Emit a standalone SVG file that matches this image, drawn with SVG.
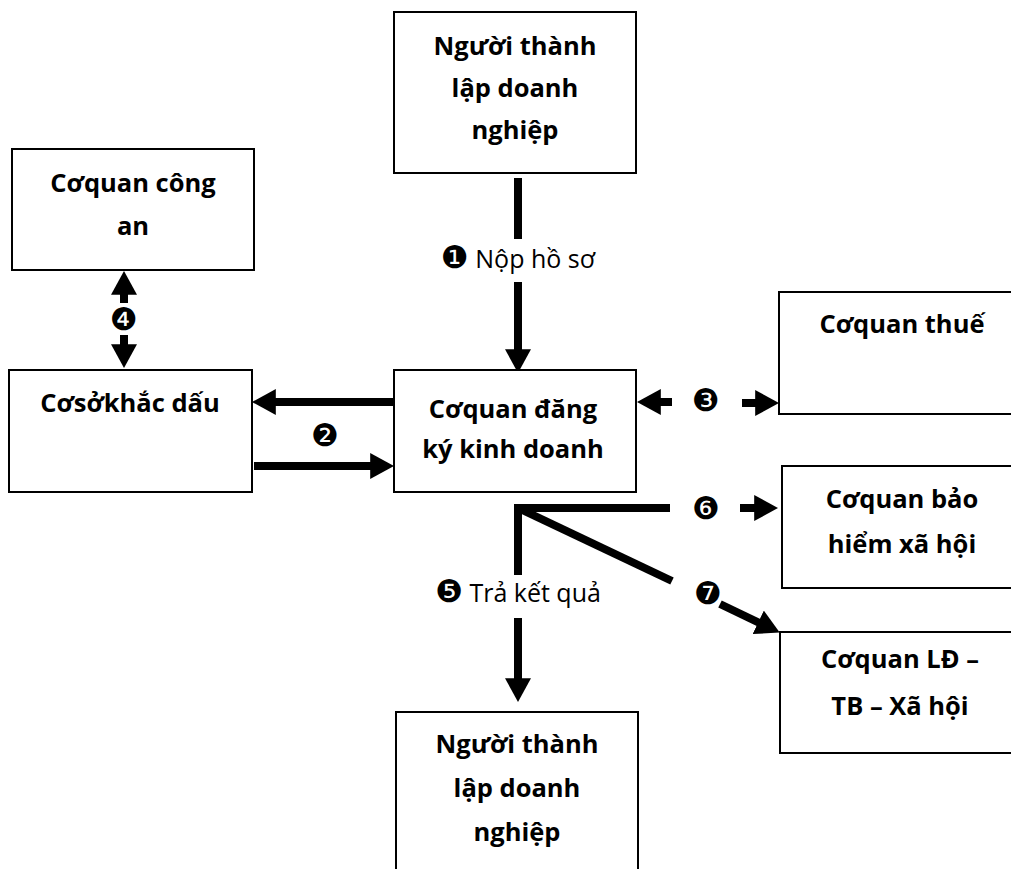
<svg xmlns="http://www.w3.org/2000/svg" width="1011" height="869" viewBox="0 0 1011 869">
  <style>
    .box { fill: #fff; stroke: #000; stroke-width: 2; }
    .t { font-family: "Open Sans", "Noto Sans", sans-serif; font-weight: 700; font-size: 25.5px; fill: #000; text-anchor: middle; }
    .lbl { font-family: "Open Sans", "Noto Sans", sans-serif; font-size: 25px; fill: #000; text-anchor: middle; }
    .num { font-family: "DejaVu Sans", sans-serif; font-size: 31px; fill: #000; }
    .numc { font-family: "DejaVu Sans", sans-serif; font-size: 31px; fill: #000; text-anchor: middle; }
    .ln { stroke: #000; stroke-width: 8; fill: none; }
    .arr { stroke: #000; stroke-width: 8; fill: none; marker-end: url(#head); }
  </style>
  <defs>
    <marker id="head" markerUnits="userSpaceOnUse" markerWidth="24" markerHeight="26" viewBox="0 0 22 24" refX="10" refY="12" orient="auto">
      <path d="M0,0 L22,12 L0,24 z" fill="#000"/>
    </marker>
  </defs>

  <rect width="1011" height="869" fill="#fff"/>

  <!-- connectors -->
  <g id="connectors">
    <!-- 1: submit application -->
    <line class="ln" x1="518" y1="178" x2="518" y2="239"/>
    <line class="arr" x1="518" y1="282" x2="518" y2="360"/>
    <!-- 2: seal making, both ways -->
    <line class="arr" x1="394" y1="402" x2="265" y2="402"/>
    <line class="arr" x1="254" y1="466" x2="381" y2="466"/>
    <!-- 3: tax office -->
    <line class="arr" x1="672" y1="402" x2="650" y2="402"/>
    <line class="arr" x1="742" y1="403" x2="766" y2="403"/>
    <!-- 4: police -->
    <line class="arr" x1="124" y1="303" x2="124" y2="284"/>
    <line class="arr" x1="124" y1="335" x2="124" y2="355"/>
    <!-- 5 and 6: result and social insurance -->
    <path class="ln" d="M518,575 V508 H670"/>
    <line class="arr" x1="740" y1="508" x2="765" y2="508"/>
    <line class="arr" x1="518" y1="618" x2="518" y2="689"/>
    <!-- 7: labour office -->
    <line class="ln" x1="518" y1="508" x2="672" y2="581"/>
    <line class="arr" x1="720" y1="604" x2="768" y2="627"/>
  </g>

  <g id="connector-labels">
    <text class="lbl" x="518" y="268"><tspan class="num">❶</tspan> Nộp hồ sơ</text>
    <text class="lbl" x="518" y="602"><tspan class="num">❺</tspan> Trả kết quả</text>
    <text class="numc" x="325" y="446">❷</text>
    <text class="numc" x="706" y="411">❸</text>
    <text class="numc" x="124" y="330">❹</text>
    <text class="numc" x="706" y="519">❻</text>
    <text class="numc" x="708" y="604">❼</text>
  </g>

  <g id="node-founder-top">
    <rect class="box" x="394" y="12" width="242" height="161"/>
    <text class="t" x="515" y="55">Người thành</text>
    <text class="t" x="515" y="97">lập doanh</text>
    <text class="t" x="515" y="139">nghiệp</text>
  </g>

  <g id="node-police">
    <rect class="box" x="12" y="149" width="242" height="121"/>
    <text class="t" x="133" y="192">Cơquan công</text>
    <text class="t" x="133" y="235">an</text>
  </g>

  <g id="node-seal">
    <rect class="box" x="9" y="370" width="243" height="122"/>
    <text class="t" x="130" y="412">Cơsởkhắc dấu</text>
  </g>

  <g id="node-registry">
    <rect class="box" x="394" y="370" width="242" height="122"/>
    <text class="t" x="513" y="418">Cơquan đăng</text>
    <text class="t" x="513" y="458">ký kinh doanh</text>
  </g>

  <g id="node-tax">
    <rect class="box" x="779" y="292" width="240" height="122"/>
    <text class="t" x="902" y="333">Cơquan thuế</text>
  </g>

  <g id="node-insurance">
    <rect class="box" x="782" y="466" width="240" height="122"/>
    <text class="t" x="902" y="508">Cơquan bảo</text>
    <text class="t" x="902" y="553">hiểm xã hội</text>
  </g>

  <g id="node-labour">
    <rect class="box" x="780" y="632" width="240" height="121"/>
    <text class="t" x="900" y="668">Cơquan LĐ –</text>
    <text class="t" x="900" y="715">TB – Xã hội</text>
  </g>

  <g id="node-founder-bottom">
    <rect class="box" x="396" y="712" width="242" height="170"/>
    <text class="t" x="517" y="753">Người thành</text>
    <text class="t" x="517" y="797">lập doanh</text>
    <text class="t" x="517" y="841">nghiệp</text>
  </g>
</svg>
